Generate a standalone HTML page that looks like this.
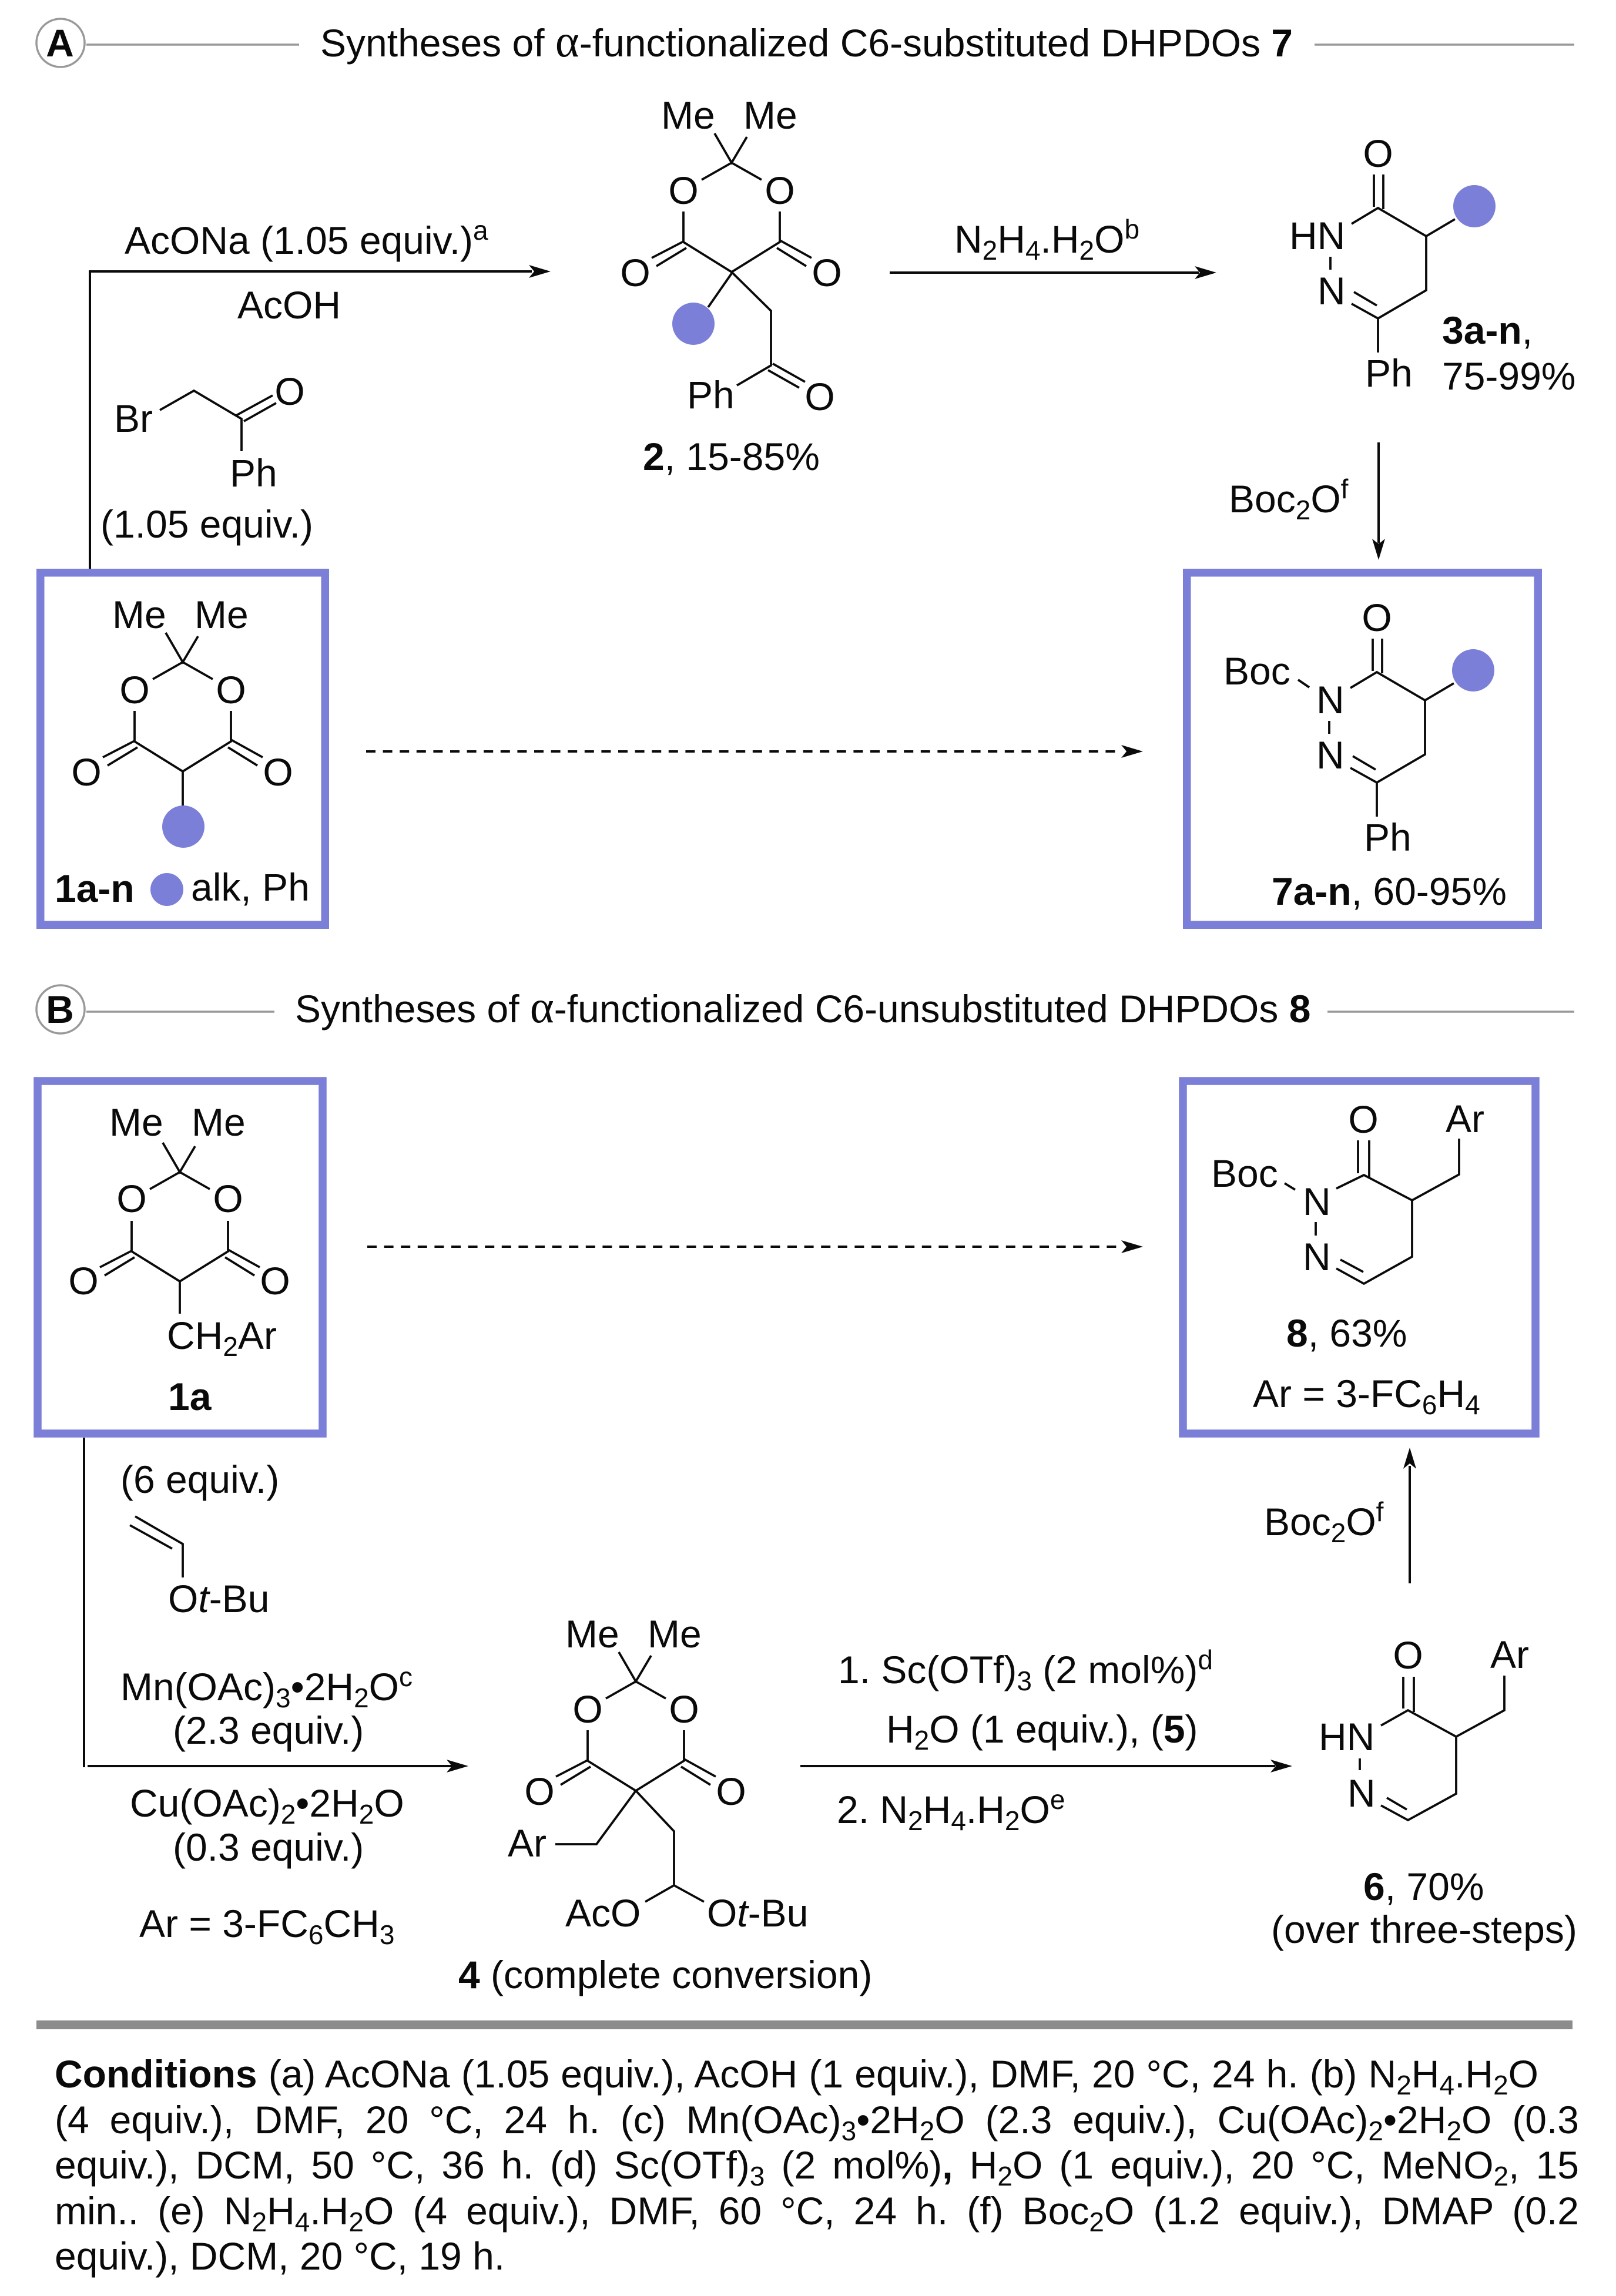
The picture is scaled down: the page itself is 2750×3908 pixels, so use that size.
<!DOCTYPE html>
<html><head><meta charset="utf-8">
<style>
html,body{margin:0;padding:0;background:#fff}
#p{position:relative;width:2750px;height:3908px;overflow:hidden;background:#fff}
svg{position:absolute;left:0;top:0}
svg text{font-family:"Liberation Sans",Arial,sans-serif;font-size:66px;fill:#0a0a0a}
.m{text-anchor:middle}
.b{font-weight:bold}
.i{font-style:italic}
svg text .s{font-size:46px}
svg text .a{font-family:"Liberation Serif",serif;font-size:78px}
.bd{fill:none;stroke:#0a0a0a;stroke-width:3.8}
.ar{fill:none;stroke:#0a0a0a;stroke-width:4}
.hd{fill:#0a0a0a}
.gl{stroke:#999;stroke-width:3.5;fill:none}
.box{fill:#fff;stroke:#7b7fd8;stroke-width:13.5}
.dot{fill:#7b7fd8}
.c{position:absolute;left:93px;font:66px/76px "Liberation Sans",Arial,sans-serif;color:#0a0a0a;white-space:nowrap;text-align:justify;text-align-last:justify}
.c sub{font-size:46px;line-height:0;vertical-align:baseline;position:relative;top:12px}
</style></head><body><div id="p">
<svg width="2750" height="3908" viewBox="0 0 2750 3908">
<!-- A header -->
<ellipse cx="103" cy="73" rx="41" ry="41" fill="#fff" stroke="#999" stroke-width="3.5"/>
<text x="102" y="96" class="b m">A</text>
<path class="gl" d="M147 76H509M2237 76H2679"/>
<text x="545" y="96">Syntheses of <tspan class="a">α</tspan>-functionalized C6-substituted DHPDOs <tspan class="b">7</tspan></text>

<!-- Boxes section A -->
<rect class="box" x="68.75" y="974.75" width="484.5" height="599.5"/>
<rect class="box" x="2019.75" y="974.75" width="597.5" height="599.5"/>

<!-- top-left arrow -->
<path class="ar" d="M153 968V462H905"/>
<path class="hd" d="M937 462L900 451L909 462L900 473Z"/>
<text x="212" y="432">AcONa (1.05 equiv.)<tspan class="s" dy="-24">a</tspan></text>
<text x="404" y="542">AcOH</text>
<path class="bd" d="M272 698L330 665L411 713V768M402 707L464 673M415 717L470 686"/>
<text x="194" y="735">Br</text>
<text x="493" y="689" class="m">O</text>
<text x="391" y="828">Ph</text>
<text x="171" y="915">(1.05 equiv.)</text>

<!-- Meldrum box 1 -->
<g>
<path class="bd" d="M282 1077L311 1127L337 1083M260 1156L311 1127L362 1156M229 1210V1262L311 1313L393 1262V1210M229 1261L175 1289M234 1272L183 1303M393 1259L447 1289M388 1272L438 1303M311 1313V1375"/>
<text x="191" y="1069">Me</text><text x="331" y="1069">Me</text>
<text x="229" y="1197" class="m">O</text><text x="393" y="1197" class="m">O</text>
<text x="147" y="1337" class="m">O</text><text x="473" y="1337" class="m">O</text>
<ellipse class="dot" cx="312" cy="1407" rx="36" ry="36"/>
</g>
<text x="93" y="1535" class="b">1a-n</text>
<circle class="dot" cx="284" cy="1514" r="28"/>
<text x="325" y="1533">alk, Ph</text>

<!-- Compound 2 -->
<g transform="translate(934,-850)">
<path class="bd" d="M282 1077L311 1127L337 1083M260 1156L311 1127L362 1156M229 1210V1262L311 1313L393 1262V1210M229 1261L175 1289M234 1272L183 1303M393 1259L447 1289M388 1272L438 1303"/>
<text x="191" y="1069">Me</text><text x="331" y="1069">Me</text>
<text x="229" y="1197" class="m">O</text><text x="393" y="1197" class="m">O</text>
<text x="147" y="1337" class="m">O</text><text x="473" y="1337" class="m">O</text>
</g>
<path class="bd" d="M1246 464L1205 523M1246 464L1312 529V622L1254 656M1315 619L1370 650M1307 630L1360 660"/>
<circle class="dot" cx="1180" cy="551" r="36"/>
<text x="1169" y="695">Ph</text>
<text x="1395" y="698" class="m">O</text>
<text x="1094" y="800"><tspan class="b">2</tspan>, 15-85%</text>

<!-- N2H4 arrow -->
<path class="ar" d="M1514 464H2040"/>
<path class="hd" d="M2070 464L2033 453L2042 464L2033 475Z"/>
<text x="1624" y="430">N<tspan class="s" dy="12">2</tspan><tspan dy="-12">H</tspan><tspan class="s" dy="12">4</tspan><tspan dy="-12">.H</tspan><tspan class="s" dy="12">2</tspan><tspan dy="-12">O</tspan><tspan class="s" dy="-24">b</tspan></text>

<!-- Compound 3 -->
<path class="bd" d="M2338 297V352M2354 297V356M2300 381L2345 354L2427 402V494L2345 542V600M2345 542L2300 517M2304 497L2343 520M2427 402L2476 373M2264 437V459"/>
<text x="2345" y="284" class="m">O</text>
<text x="2194" y="424">HN</text>
<text x="2242" y="518">N</text>
<circle class="dot" cx="2509" cy="351" r="36"/>
<text x="2323" y="658">Ph</text>
<text x="2454" y="585"><tspan class="b">3a-n</tspan>,</text>
<text x="2454" y="663">75-99%</text>

<!-- Boc arrow down -->
<path class="ar" d="M2346 753V925"/>
<path class="hd" d="M2346 953L2335 917L2346 926L2357 917Z"/>
<text x="2091" y="872">Boc<tspan class="s" dy="12">2</tspan><tspan dy="-12">O</tspan><tspan class="s" dy="-24">f</tspan></text>

<!-- Compound 7 -->
<g transform="translate(-2,790)">
<path class="bd" d="M2338 297V352M2354 297V356M2300 381L2345 354L2427 402V494L2345 542V600M2345 542L2300 517M2304 497L2343 520M2427 402L2476 373M2264 437V459"/>
<text x="2345" y="284" class="m">O</text>
<text x="2242" y="424">N</text>
<text x="2242" y="518">N</text>
<circle class="dot" cx="2509" cy="351" r="36"/>
<text x="2323" y="658">Ph</text>
</g>
<text x="2082" y="1165">Boc</text>
<path class="bd" d="M2209 1157L2228 1170"/>
<text x="2164" y="1540"><tspan class="b">7a-n</tspan>, 60-95%</text>

<!-- dashed A -->
<path class="ar" d="M623 1279H1910" stroke-dasharray="16 12.6"/>
<path class="hd" d="M1945 1279L1908 1268L1917 1279L1908 1290Z"/>

<!-- B header -->
<ellipse cx="103" cy="1718" rx="41" ry="41" fill="#fff" stroke="#999" stroke-width="3.5"/>
<text x="102" y="1741" class="b m">B</text>
<path class="gl" d="M147 1722H467M2259 1722H2679"/>
<text x="502" y="1740">Syntheses of <tspan class="a">α</tspan>-functionalized C6-unsubstituted DHPDOs <tspan class="b">8</tspan></text>

<!-- Boxes B -->
<rect class="box" x="64" y="1840" width="485" height="600"/>
<rect class="box" x="2013" y="1840" width="600" height="600"/>

<!-- 1a -->
<g transform="translate(-5,868)">
<path class="bd" d="M282 1077L311 1127L337 1083M260 1156L311 1127L362 1156M229 1210V1262L311 1313L393 1262V1210M229 1261L175 1289M234 1272L183 1303M393 1259L447 1289M388 1272L438 1303M311 1313V1368"/>
<text x="191" y="1065">Me</text><text x="331" y="1065">Me</text>
<text x="229" y="1195" class="m">O</text><text x="393" y="1195" class="m">O</text>
<text x="147" y="1335" class="m">O</text><text x="473" y="1335" class="m">O</text>
</g>
<text x="284" y="2296">CH<tspan class="s" dy="12">2</tspan><tspan dy="-12">Ar</tspan></text>
<text x="286" y="2400" class="b">1a</text>

<!-- dashed B -->
<path class="ar" d="M625 2122H1910" stroke-dasharray="16 12.6"/>
<path class="hd" d="M1945 2122L1908 2111L1917 2122L1908 2133Z"/>

<!-- 8 -->
<path class="bd" d="M2311 1941V1997M2330 1941V2003M2274 2023L2321 2000L2403 2043V2139L2321 2185L2274 2159M2281 2144L2320 2165M2403 2043L2483 1999V1938M2186 2014L2204 2025M2239 2080V2103"/>
<text x="2320" y="1928" class="m">O</text>
<text x="2460" y="1927">Ar</text>
<text x="2061" y="2020">Boc</text>
<text x="2217" y="2068">N</text>
<text x="2217" y="2162">N</text>
<text x="2189" y="2292"><tspan class="b">8</tspan>, 63%</text>
<text x="2132" y="2395">Ar = 3-FC<tspan class="s" dy="12">6</tspan><tspan dy="-12">H</tspan><tspan class="s" dy="12">4</tspan></text>

<!-- Left B vertical + arrow -->
<path class="ar" d="M143 2447V3008"/>
<path class="ar" d="M149 3006H770"/>
<path class="hd" d="M797 3006L760 2995L769 3006L760 3017Z"/>
<text x="205" y="2541">(6 equiv.)</text>
<path class="bd" d="M230 2581L311 2628V2685M221 2596L293 2636"/>
<text x="286" y="2744">O<tspan class="i">t</tspan>-Bu</text>
<text x="205" y="2894">Mn(OAc)<tspan class="s" dy="12">3</tspan><tspan dy="-12">•2H</tspan><tspan class="s" dy="12">2</tspan><tspan dy="-12">O</tspan><tspan class="s" dy="-24">c</tspan></text>
<text x="294" y="2968">(2.3 equiv.)</text>
<text x="221" y="3092">Cu(OAc)<tspan class="s" dy="12">2</tspan><tspan dy="-12">•2H</tspan><tspan class="s" dy="12">2</tspan><tspan dy="-12">O</tspan></text>
<text x="294" y="3167">(0.3 equiv.)</text>
<text x="237" y="3297">Ar = 3-FC<tspan class="s" dy="12">6</tspan><tspan dy="-12">CH</tspan><tspan class="s" dy="12">3</tspan></text>

<!-- Compound 4 -->
<g transform="translate(771,1735)">
<path class="bd" d="M282 1077L311 1127L337 1083M260 1156L311 1127L362 1156M229 1210V1262L311 1313L393 1262V1210M229 1261L175 1289M234 1272L183 1303M393 1259L447 1289M388 1272L438 1303"/>
<text x="191" y="1069">Me</text><text x="331" y="1069">Me</text>
<text x="229" y="1197" class="m">O</text><text x="393" y="1197" class="m">O</text>
<text x="147" y="1337" class="m">O</text><text x="473" y="1337" class="m">O</text>
</g>
<path class="bd" d="M1082 3048L1015 3139H945M1082 3048L1147 3117V3209L1098 3237M1147 3209L1198 3237"/>
<text x="864" y="3160">Ar</text>
<text x="962" y="3279">AcO</text>
<text x="1203" y="3279">O<tspan class="i">t</tspan>-Bu</text>
<text x="780" y="3384"><tspan class="b">4</tspan> (complete conversion)</text>

<!-- middle arrow -->
<path class="ar" d="M1362 3006H2170"/>
<path class="hd" d="M2199 3006L2162 2995L2171 3006L2162 3017Z"/>
<text x="1426" y="2865">1. Sc(OTf)<tspan class="s" dy="12">3</tspan><tspan dy="-12"> (2 mol%)</tspan><tspan class="s" dy="-24">d</tspan></text>
<text x="1508" y="2966">H<tspan class="s" dy="12">2</tspan><tspan dy="-12">O (1 equiv.), (</tspan><tspan class="b">5</tspan>)</text>
<text x="1424" y="3103">2. N<tspan class="s" dy="12">2</tspan><tspan dy="-12">H</tspan><tspan class="s" dy="12">4</tspan><tspan dy="-12">.H</tspan><tspan class="s" dy="12">2</tspan><tspan dy="-12">O</tspan><tspan class="s" dy="-24">e</tspan></text>

<!-- Compound 6 -->
<path class="bd" d="M2388 2854V2908M2406 2854V2914M2350 2937L2396 2911L2478 2956V3053L2396 3098L2350 3073M2360 3060L2394 3080M2478 2956L2560 2911V2852M2314 2993V3013"/>
<text x="2396" y="2840" class="m">O</text>
<text x="2536" y="2839">Ar</text>
<text x="2244" y="2979">HN</text>
<text x="2293" y="3075">N</text>
<text x="2320" y="3234"><tspan class="b">6</tspan>, 70%</text>
<text x="2163" y="3307">(over three-steps)</text>

<!-- up arrow -->
<path class="ar" d="M2399 2695V2495"/>
<path class="hd" d="M2399 2464L2388 2500L2399 2491L2410 2500Z"/>
<text x="2151" y="2613">Boc<tspan class="s" dy="12">2</tspan><tspan dy="-12">O</tspan><tspan class="s" dy="-24">f</tspan></text>

<!-- rule -->
<rect x="62" y="3439" width="2614" height="15" fill="#8c8c8c"/>
</svg>

<div class="c" style="top:3492px;width:2525px;word-spacing:-5px"><b>Conditions</b> (a) AcONa (1.05 equiv.), AcOH (1 equiv.), DMF, 20 °C, 24 h. (b) N<sub>2</sub>H<sub>4</sub>.H<sub>2</sub>O</div>
<div class="c" style="top:3570px;width:2594px">(4 equiv.), DMF, 20 °C, 24 h. (c) Mn(OAc)<sub>3</sub>•2H<sub>2</sub>O (2.3 equiv.), Cu(OAc)<sub>2</sub>•2H<sub>2</sub>O (0.3</div>
<div class="c" style="top:3647px;width:2594px">equiv.), DCM, 50 °C, 36 h. (d) Sc(OTf)<sub>3</sub> (2 mol%)<b>,</b> H<sub>2</sub>O (1 equiv.), 20 °C, MeNO<sub>2</sub>, 15</div>
<div class="c" style="top:3725px;width:2594px">min.. (e) N<sub>2</sub>H<sub>4</sub>.H<sub>2</sub>O (4 equiv.), DMF, 60 °C, 24 h. (f) Boc<sub>2</sub>O (1.2 equiv.), DMAP (0.2</div>
<div class="c" style="top:3802px;text-align:left;text-align-last:left">equiv.), DCM, 20 °C, 19 h.</div>
</div></body></html>
